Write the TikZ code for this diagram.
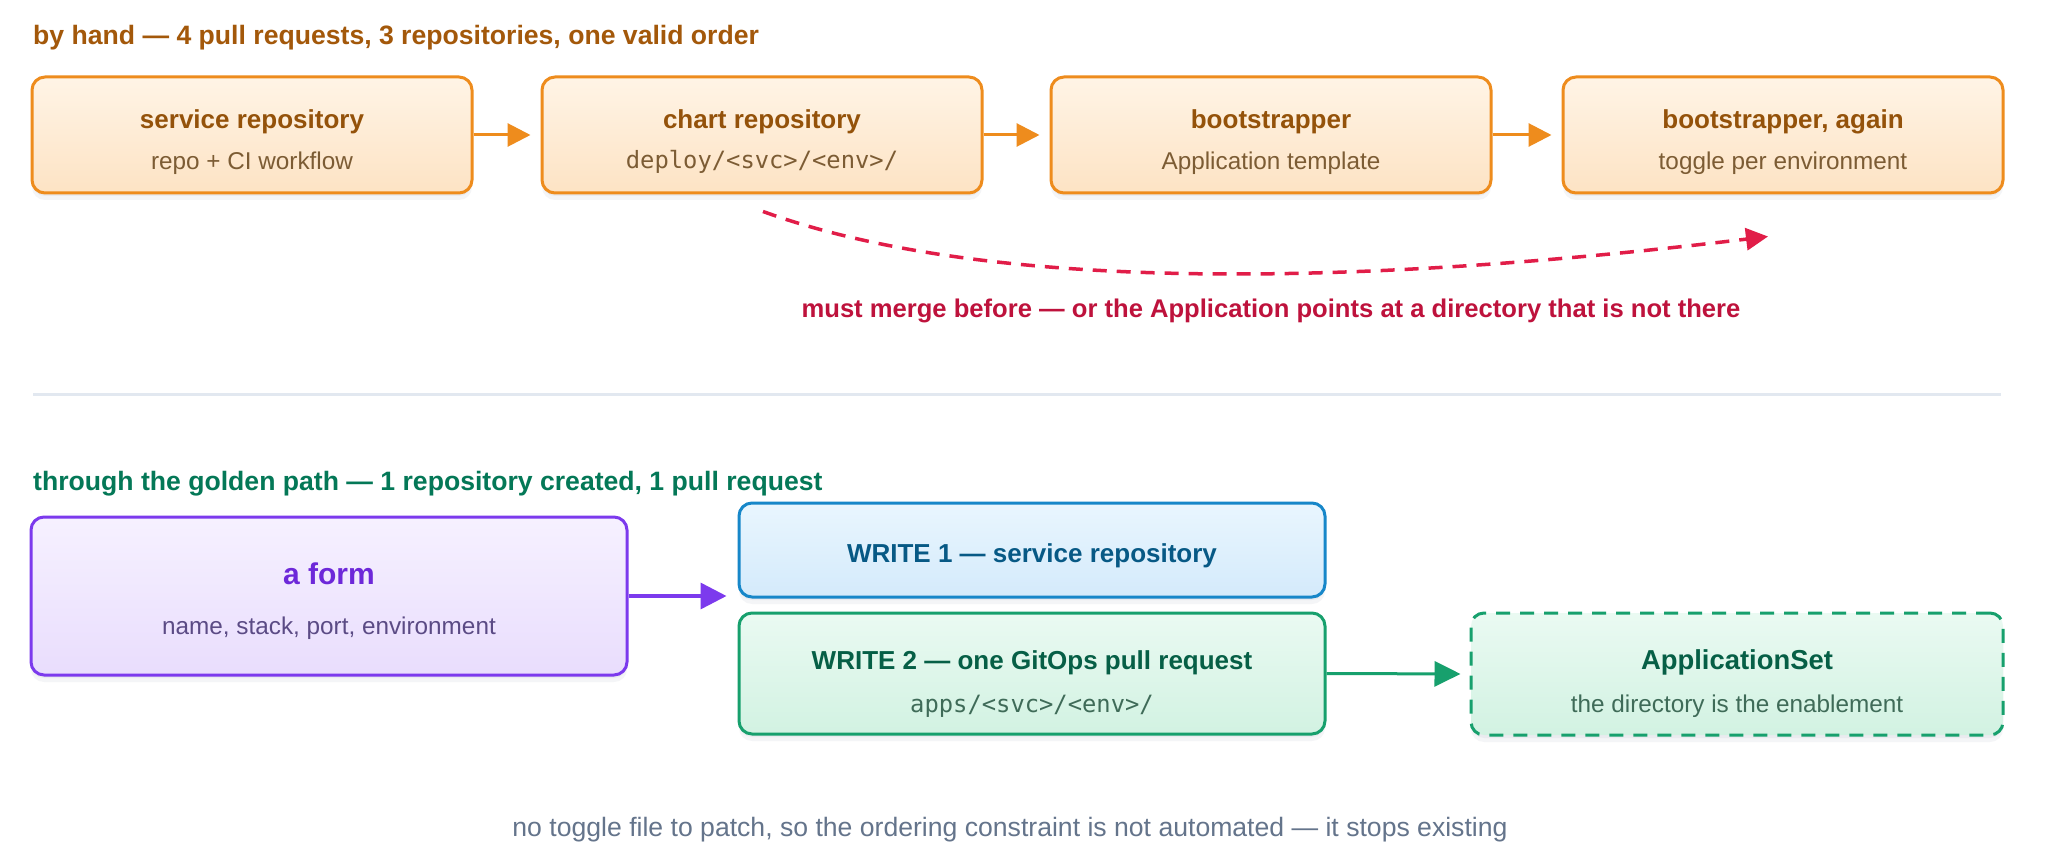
\documentclass[tikz,border=0pt]{standalone}
\usepackage{fontspec}
\setmainfont{Liberation Sans}
\newfontfamily\monofont{DejaVu Sans Mono}
\usetikzlibrary{arrows.meta,shadows,calc}
\definecolor{ohead}{HTML}{A3580A}
\definecolor{oborder}{HTML}{EE8C1D}
\definecolor{otop}{HTML}{FFF4E6}
\definecolor{obot}{HTML}{FDE3C4}
\definecolor{otxt}{HTML}{94520A}
\definecolor{osub}{HTML}{7C5C34}
\definecolor{redline}{HTML}{E11D48}
\definecolor{redtxt}{HTML}{BE123C}
\definecolor{divcol}{HTML}{E2E8F0}
\definecolor{ghead}{HTML}{047857}
\definecolor{pborder}{HTML}{7C3AED}
\definecolor{ptop}{HTML}{F6F1FF}
\definecolor{pbot}{HTML}{E9DDFD}
\definecolor{ptxt}{HTML}{6D28D9}
\definecolor{psub}{HTML}{5B4B85}
\definecolor{bborder}{HTML}{1787C9}
\definecolor{btop}{HTML}{E9F6FE}
\definecolor{bbot}{HTML}{D4EAFB}
\definecolor{btxt}{HTML}{075985}
\definecolor{gborder}{HTML}{17A06D}
\definecolor{gtop}{HTML}{EAFAF2}
\definecolor{gbot}{HTML}{D2F2E2}
\definecolor{gtxt}{HTML}{065F46}
\definecolor{gsub}{HTML}{3F6B58}
\definecolor{notecol}{HTML}{64748B}
\definecolor{shadowcol}{HTML}{334466}
\begin{document}
\begin{tikzpicture}[x=1pt,y=-1pt,
  softshadow/.style={
    drop shadow={shadow xshift=0pt,shadow yshift=-7pt,opacity=0.05,fill=shadowcol},
    drop shadow={shadow xshift=0pt,shadow yshift=-3pt,opacity=0.05,fill=shadowcol}},
  box/.style={rectangle,rounded corners=13pt,line width=3pt,inner sep=0pt,softshadow},
  obox/.style={box,draw=oborder,top color=otop,bottom color=obot,minimum width=440pt,minimum height=116pt},
  head/.style={anchor=base west,inner sep=0pt,font=\bfseries\fontsize{26.6}{30}\selectfont},
  ttl/.style={anchor=base,inner sep=0pt,font=\bfseries\fontsize{26}{30}\selectfont},
  sub/.style={anchor=base,inner sep=0pt,font=\fontsize{24.3}{28}\selectfont},
  mono/.style={anchor=base,inner sep=0pt,font=\monofont\fontsize{23.8}{28}\selectfont},
  oarrow/.style={draw=oborder,line width=3pt,-{Triangle[length=23pt,width=23pt]},shorten >=10pt},
  parrow/.style={draw=pborder,line width=3.5pt,-{Triangle[length=26pt,width=26pt]},shorten >=11pt},
  garrow/.style={draw=gborder,line width=3pt,-{Triangle[length=26pt,width=25pt]},shorten >=9pt},
  rarrow/.style={draw=redline,line width=3.5pt,dash pattern=on 14pt off 10pt,-{Triangle[length=22pt,width=22pt]}}
]
\useasboundingbox[fill=white] (0,0) rectangle (2048,866);

% ---------- by hand ----------
\node[head,text=ohead] (h1) at (33,45) {by hand — 4 pull requests, 3 repositories, one valid order};

\node[obox] (b1) at (252,135) {};
\node[obox] (b2) at (762,135) {};
\node[obox] (b3) at (1271,135) {};
\node[obox] (b4) at (1783,135) {};

\node[ttl,text=otxt] (b1t) at (252,129) {service repository};
\node[sub,text=osub] (b1s) at (252,170) {repo + CI workflow};
\node[ttl,text=otxt] (b2t) at (762,129) {chart repository};
\node[mono,text=osub] (b2s) at (762,169) {deploy/<svc>/<env>/};
\node[ttl,text=otxt] (b3t) at (1271,129) {bootstrapper};
\node[sub,text=osub] (b3s) at (1271,170) {Application template};
\node[ttl,text=otxt] (b4t) at (1783,129) {bootstrapper, again};
\node[sub,text=osub] (b4s) at (1783,170) {toggle per environment};

\draw[oarrow] (b1.east) -- (b2.west);
\draw[oarrow] (b2.east) -- (b3.west);
\draw[oarrow] (b3.east) -- (b4.west);

\coordinate (ms) at ($(b2.south)+(1,17)$);
\coordinate (me) at ($(b4.south)+(-15,42)$);
\draw[rarrow] (ms) .. controls (966,285) and (1301,293) .. (me);
\node[anchor=base,inner sep=0pt,font=\bfseries\fontsize{25.6}{30}\selectfont,text=redtxt] (warn) at (1271,318) {must merge before — or the Application points at a directory that is not there};

% ---------- divider ----------
\draw[divcol,line width=3pt] (33,395) -- (2001,395);

% ---------- golden path ----------
\node[head,text=ghead] (h2) at (33,490) {through the golden path — 1 repository created, 1 pull request};

\node[box,draw=pborder,top color=ptop,bottom color=pbot,minimum width=596pt,minimum height=158pt] (form) at (329,596) {};
\node[anchor=base,inner sep=0pt,font=\bfseries\fontsize{30}{34}\selectfont,text=ptxt] (formt) at (329,584) {a form};
\node[sub,text=psub] (forms) at (329,634) {name, stack, port, environment};

\node[box,draw=bborder,top color=btop,bottom color=bbot,minimum width=586pt,minimum height=94pt] (w1) at (1032,550) {};
\node[ttl,text=btxt] (w1t) at (1032,562) {WRITE 1 — service repository};

\node[box,draw=gborder,top color=gtop,bottom color=gbot,minimum width=586pt,minimum height=121pt] (w2) at (1032,673.5) {};
\node[ttl,text=gtxt] (w2t) at (1032,669) {WRITE 2 — one GitOps pull request};
\node[mono,text=gsub] (w2s) at (1032,712) {apps/<svc>/<env>/};

\node[box,draw=gborder,dash pattern=on 14pt off 10pt,top color=gtop,bottom color=gbot,minimum width=532pt,minimum height=122pt] (as) at (1737,674) {};
\node[anchor=base,inner sep=0pt,font=\bfseries\fontsize{27.4}{30}\selectfont,text=gtxt] (ast) at (1737,669) {ApplicationSet};
\node[sub,text=gsub] (ass) at (1737,712) {the directory is the enablement};

\draw[parrow] (form.east) -- (form.east -| w1.west);
\draw[garrow] (w2.east) -- (as.west);

\node[anchor=base,inner sep=0pt,font=\fontsize{26.6}{30}\selectfont,text=notecol] (note) at (1010,836) {no toggle file to patch, so the ordering constraint is not automated — it stops existing};
\end{tikzpicture}
\end{document}
